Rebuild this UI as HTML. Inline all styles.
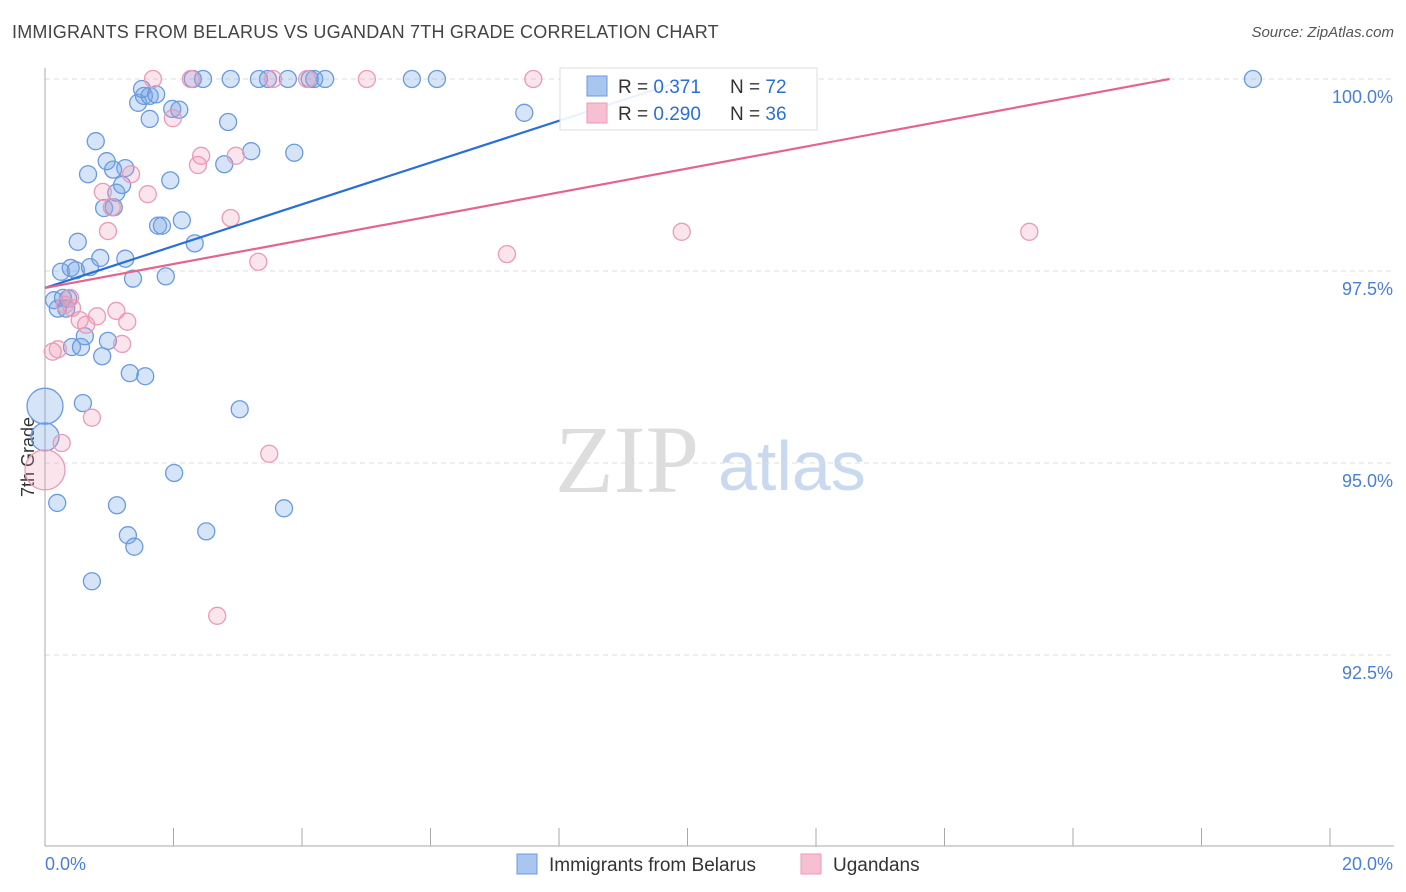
<!DOCTYPE html>
<html><head><meta charset="utf-8">
<style>
body{margin:0;background:#fff;font-family:"Liberation Sans",sans-serif;}
#wrap{position:relative;width:1406px;height:892px;}
.title{position:absolute;left:12px;top:22px;font-size:18px;color:#444;letter-spacing:0.2px}
.src{position:absolute;right:12px;top:24px;font-size:15px;color:#555;font-style:italic}
</style></head><body>
<div id="wrap">
<div class="title">IMMIGRANTS FROM BELARUS VS UGANDAN 7TH GRADE CORRELATION CHART</div>
<div class="src">Source: ZipAtlas.com</div>
<svg id="svg" width="1406" height="892" style="position:absolute;left:0;top:0">
<text x="555" y="492" font-family="Liberation Serif" font-size="96" fill="#ddd">ZIP</text>
<text x="718" y="490" font-family="Liberation Sans" font-size="70" fill="#c9daf0">atlas</text>
</svg>
</div>
<script>
const blueX=[0,0,0.19,0.73,1.12,1.29,1.39,2.01,2.51,3.72,3.03,1.56,1.32,0.89,0.59,0.42,0.56,0.62,0.98,0.20,0.14,0.28,0.36,0.33,0.25,0.40,0.48,0.70,0.86,1.25,1.37,1.88,0.51,0.92,1.07,1.11,1.20,1.06,0.96,1.25,0.67,0.79,1.95,1.76,1.82,2.13,2.33,1.45,1.54,1.63,1.51,1.73,1.98,2.09,1.63,2.85,2.79,3.21,3.88,7.46,2.30,2.46,2.89,3.33,3.47,3.78,4.12,4.19,4.36,5.71,6.10,18.80];
const blueY=[95.74,95.34,94.48,93.46,94.45,94.06,93.91,94.87,94.11,94.41,95.70,96.13,96.17,96.39,95.78,96.51,96.51,96.65,96.59,97.01,97.12,97.15,97.14,97.01,97.49,97.54,97.51,97.55,97.67,97.66,97.40,97.43,97.88,98.32,98.33,98.52,98.62,98.82,98.93,98.84,98.76,99.19,98.68,98.09,98.09,98.16,97.86,99.69,99.78,99.78,99.87,99.80,99.61,99.60,99.48,99.44,98.89,99.06,99.04,99.56,100,100,100,100,100,100,100,100,100,100,100,100];
const blueR=[18,14];
const pinkX=[0,0.26,0.12,0.20,0.98,0.90,1.04,1.34,1.60,1.99,2.38,2.43,2.97,2.89,3.32,3.49,2.68,0.73,0.42,0.54,0.64,0.81,1.11,1.28,1.20,0.39,0.31,1.68,2.27,3.55,4.08,5.01,7.60,7.19,9.91,15.32];
const pinkY=[94.91,95.26,96.45,96.48,98.02,98.53,98.33,98.76,98.50,99.49,98.88,99.00,99.00,98.19,97.62,95.12,93.01,95.59,97.02,96.86,96.80,96.91,96.98,96.84,96.55,97.15,97.06,100,100,100,100,100,100,97.72,98.01,98.01];
const pinkR=[20];
const blueTrend=[97.28,0.272];
const pinkTrend=[97.28,0.1554];
const xTicks=[0,2,4,6,8,10,12,14,16,18,20];
const yTicks=[100,97.5,95,92.5];
const yLabels=["100.0%","97.5%","95.0%","92.5%"];

const NS="http://www.w3.org/2000/svg";
const svg=document.getElementById('svg');
const X=v=>45+v*64.25;
const Y=v=>79+(100-v)*76.8;
function mk(t,a){const e=document.createElementNS(NS,t);for(const k in a)e.setAttribute(k,a[k]);svg.appendChild(e);return e;}

// gridlines
yTicks.forEach((t,i)=>{
 const g=mk('line',{x1:45,x2:1394,y1:Y(t),y2:Y(t),stroke:'#ddd','stroke-dasharray':'5,4'});
 
 
 const l=mk('text',{x:1393,y:Y(t)+24,'text-anchor':'end','font-size':18,fill:'#4a7fd6','font-family':'Liberation Sans'});
 l.textContent=yLabels[i];
 
 
});
const ax=mk('line',{x1:45,x2:45,y1:68,y2:846,stroke:'#aaa'});


const bx=mk('line',{x1:45,x2:1394,y1:846,y2:846,stroke:'#aaa'});


xTicks.forEach(t=>{
 const k=mk('line',{x1:X(t),x2:X(t),y1:828,y2:846,stroke:'#aaa'});
 
 
});
const x0=mk('text',{x:45,y:870,'font-size':18,fill:'#4a7fd6','font-family':'Liberation Sans'});x0.textContent='0.0%';


const x1=mk('text',{x:1393,y:870,'text-anchor':'end','font-size':18,fill:'#4a7fd6','font-family':'Liberation Sans'});x1.textContent='20.0%';


const yt=mk('text',{x:0,y:0,transform:'translate(34,457) rotate(-90)','text-anchor':'middle','font-size':18,fill:'#333','font-family':'Liberation Sans'});yt.textContent='7th Grade';



blueX.forEach((x,i)=>{
 const c=mk('circle',{cx:X(x),cy:Y(blueY[i]),r:blueR[i]||8.5,fill:'rgba(120,165,230,0.3)',stroke:'#6a9ae0','stroke-width':1.3});
 
 
});
pinkX.forEach((x,i)=>{
 const c=mk('circle',{cx:X(x),cy:Y(pinkY[i]),r:pinkR[i]||8.5,fill:'rgba(240,150,180,0.25)',stroke:'#eb9ab5','stroke-width':1.3});
 
 
});
const bEnd=(100-blueTrend[0])/blueTrend[1];
const bl=mk('line',{x1:X(0),y1:Y(blueTrend[0]),x2:X(bEnd),y2:Y(100),stroke:'#2a6fd6','stroke-width':2.2});


const pEnd=(100-pinkTrend[0])/pinkTrend[1];
const pl=mk('line',{x1:X(0),y1:Y(pinkTrend[0]),x2:X(pEnd),y2:Y(100),stroke:'#e4648e','stroke-width':2.2});



// legend box
const lb=mk('rect',{x:560,y:68,width:257,height:62,fill:'rgba(255,255,255,0.9)',stroke:'#ddd'});


[[86,'#a9c6f0','#6a9ae0','0.371','72'],[113,'#f7c0d2','#eb9ab5','0.290','36']].forEach(r=>{
 const s=mk('rect',{x:587,y:r[0]-10,width:20,height:20,fill:r[1],stroke:r[2]});
 
 
 const t=mk('text',{x:618,y:r[0]+7,'font-size':19,fill:'#333','font-family':'Liberation Sans'});
 t.innerHTML='R = <tspan fill="#2a6fd6">'+r[3]+'</tspan><tspan x="730">N = </tspan><tspan fill="#2a6fd6">'+r[4]+'</tspan>';
 
 
});
// bottom legend
[[517,'#a9c6f0','#6a9ae0','Immigrants from Belarus'],[801,'#f7c0d2','#eb9ab5','Ugandans']].forEach(r=>{
 const s=mk('rect',{x:r[0],y:854,width:20,height:20,fill:r[1],stroke:r[2]});
 
 
 const t=mk('text',{x:r[0]+32,y:871,'font-size':19,fill:'#333','font-family':'Liberation Sans'});
 t.textContent=r[3];
 
 
});
</script>
</body></html>
